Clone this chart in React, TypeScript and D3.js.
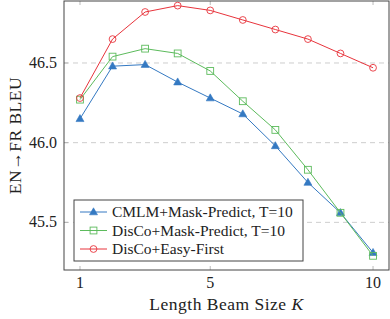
import React from 'react';
import * as d3 from 'd3';

const beamSizes = [1, 2, 3, 4, 5, 6, 7, 8, 9, 10];
const cmlmMaskPredict = [46.15, 46.48, 46.49, 46.38, 46.28, 46.18, 45.98, 45.75, 45.56, 45.31];
const discoMaskPredict = [46.27, 46.54, 46.59, 46.56, 46.45, 46.26, 46.08, 45.83, 45.56, 45.29];
const discoEasyFirst = [46.28, 46.65, 46.82, 46.86, 46.83, 46.77, 46.71, 46.65, 46.56, 46.47];
const xTicks = [1, 5, 10];
const yTicks = [45.5, 46.0, 46.5];

const series = [
  { label: 'CMLM+Mask-Predict, T=10', values: cmlmMaskPredict, color: '#3479c2', marker: 'triangle' },
  { label: 'DisCo+Mask-Predict, T=10', values: discoMaskPredict, color: '#5cbb5c', marker: 'square' },
  { label: 'DisCo+Easy-First', values: discoEasyFirst, color: '#e8343c', marker: 'circle' },
];

const width = 390;
const height = 319;
const margin = { top: 1, right: 1, bottom: 49, left: 64 };
const font = 'Liberation Serif';

function Marker({ type, x, y, color }: { type: string; x: number; y: number; color: string }) {
  if (type === 'triangle') {
    return <path d={`M${x},${y - 4.2} L${x + 4},${y + 2.8} L${x - 4},${y + 2.8} Z`} fill={color} stroke={color} strokeWidth={0.6} />;
  }
  if (type === 'square') {
    return <rect x={x - 3.4} y={y - 3.4} width={6.8} height={6.8} fill="none" stroke={color} strokeWidth={0.9} />;
  }
  return <circle cx={x} cy={y} r={3.4} fill="none" stroke={color} strokeWidth={0.9} />;
}

export default function App() {
  const x = d3.scaleLinear().domain([0.509, 10.49]).range([margin.left, width - margin.right]);
  const y = d3.scaleLinear().domain([45.201, 46.889]).range([height - margin.bottom, margin.top]);
  const line = d3.line<number>().x((_, i) => x(beamSizes[i])).y(d => y(d));
  const top = margin.top;
  const bottom = height - margin.bottom;
  const left = margin.left;
  const right = width - margin.right;

  return (
    <svg width={width} height={height} style={{ position: 'absolute', left: 0, top: 0, background: '#fff' }}>
      {/* grid */}
      {yTicks.map(t => (
        <line key={t} x1={left} x2={right} y1={y(t)} y2={y(t)} stroke="#c8c8c8" strokeDasharray="5,4" strokeWidth={0.9} />
      ))}
      {/* ticks */}
      {xTicks.map(t => (
        <g key={t}>
          <line x1={x(t)} x2={x(t)} y1={bottom} y2={bottom - 4} stroke="#aaa" strokeWidth={0.8} />
          <line x1={x(t)} x2={x(t)} y1={top} y2={top + 4} stroke="#aaa" strokeWidth={0.8} />
          <text x={x(t)} y={bottom + 18} textAnchor="middle" fontSize={16} fontFamily={font} fill="#222">{t}</text>
        </g>
      ))}
      {yTicks.map(t => (
        <g key={t}>
          <line x1={left} x2={left + 4} y1={y(t)} y2={y(t)} stroke="#aaa" strokeWidth={0.8} />
          <text x={left - 7} y={y(t) + 5} textAnchor="end" fontSize={16} fontFamily={font} fill="#222">{t.toFixed(1)}</text>
        </g>
      ))}
      {/* lines */}
      {series.map(s => (
        <g key={s.label}>
          <path d={line(s.values) || ''} fill="none" stroke={s.color} strokeWidth={1} />
          {s.values.map((v, i) => (
            <Marker key={i} type={s.marker} x={x(beamSizes[i])} y={y(v)} color={s.color} />
          ))}
        </g>
      ))}
      {/* frame */}
      <rect x={left} y={top} width={right - left} height={bottom - top} fill="none" stroke="#444" strokeWidth={1} />
      {/* legend */}
      <g transform="translate(74,200)">
        <rect x={0} y={0} width={229} height={61} fill="#fff" stroke="#444" strokeWidth={1} />
        {series.map((s, i) => (
          <g key={s.label} transform={`translate(0,${12 + i * 18.5})`}>
            <line x1={6} x2={33} y1={0} y2={0} stroke={s.color} strokeWidth={1} />
            <Marker type={s.marker} x={19.5} y={0} color={s.color} />
            <text x={38} y={5} fontSize={15.5} fontFamily={font} fill="#222">{s.label}</text>
          </g>
        ))}
      </g>
      {/* axis labels */}
      <text x={(left + right) / 2} y={310} textAnchor="middle" fontSize={17.5} letterSpacing={0.5} fontFamily={font} fill="#222">
        Length Beam Size <tspan fontStyle="italic">K</tspan>
      </text>
      <text transform="translate(21,135.5) rotate(-90)" textAnchor="middle" fontSize={17.5} letterSpacing={0.5} fontFamily={font} fill="#222">
        EN→FR BLEU
      </text>
    </svg>
  );
}
